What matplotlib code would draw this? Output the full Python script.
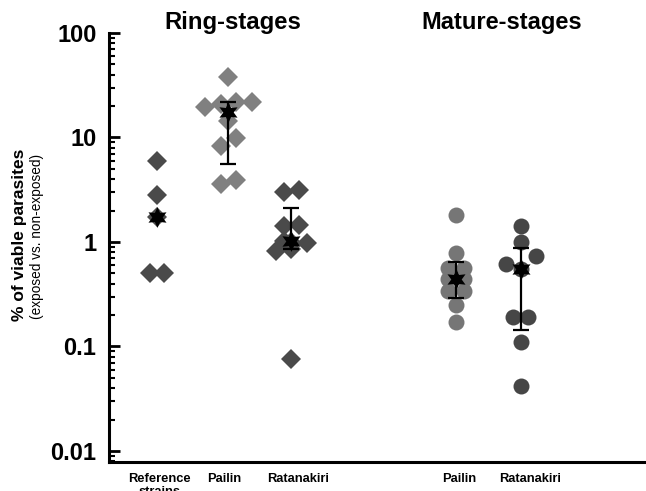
import numpy as np
import matplotlib
matplotlib.use('Agg')
import matplotlib.pyplot as plt
import matplotlib.transforms as mtrans

plt.rcParams['font.family'] = ['Liberation Sans', 'DejaVu Sans']

# ---- data ----
groups = ['Reference', 'Pailin', 'Ratanakiri', 'Pailin', 'Ratanakiri']

ref_vals = [6.0, 2.8, 1.75, 0.5, 0.5]
ring_pailin_vals = [38, 19.5, 21, 22, 22, 14.5, 8.3, 9.8, 3.6, 3.9]
ring_ratan_vals = [3.0, 3.15, 1.42, 1.46, 1.03, 0.98, 0.82, 0.86, 1.0, 0.076]
mat_pailin_vals = [1.83, 0.78, 0.56, 0.56, 0.44, 0.44, 0.34, 0.34, 0.25, 0.17]
mat_ratan_vals = [1.42, 1.0, 0.74, 0.61, 0.55, 0.19, 0.19, 0.111, 0.042]

medians = [1.75, 17.5, 1.03, 0.44, 0.55]
err_low = [None, 5.56, 0.85, 0.29, 0.145]
err_high = [None, 22, 2.1, 0.65, 0.87]

# ---- layout (x positions of groups, swarm offsets) ----
xpos = [0, 1.04, 1.97, 4.4, 5.35]
label_x = [0.03, 0.985, 2.07, 4.45, 5.49]
ref_off = [0, 0, 0, -0.11, 0.11]
ring_pailin_off = [0, -0.33, -0.1, 0.12, 0.35, 0, -0.1, 0.12, -0.1, 0.12]
ring_ratan_off = [-0.11, 0.12, -0.11, 0.12, -0.11, 0.23, -0.22, 0, 0, 0]
mat_pailin_off = [0, 0, -0.12, 0.12, -0.12, 0.12, -0.12, 0.12, 0, 0]
mat_ratan_off = [0, 0, 0.22, -0.22, 0, -0.12, 0.11, 0, 0]

fig = plt.figure(figsize=(6.46, 4.91), dpi=100)
ax = fig.add_axes([109/646, 1-462/491, 1-109/646, (462-33)/491])
ax.set_yscale('log')

sets = [
    (ref_vals, ref_off, 'D', '#4a4a4a', 10),
    (ring_pailin_vals, ring_pailin_off, 'D', '#808080', 10),
    (ring_ratan_vals, ring_ratan_off, 'D', '#4a4a4a', 10),
    (mat_pailin_vals, mat_pailin_off, 'o', '#767676', 11.5),
    (mat_ratan_vals, mat_ratan_off, 'o', '#464646', 11.5),
]
for i, (vals, off, mk, col, ms) in enumerate(sets):
    xs = xpos[i] + np.array(off)
    ax.plot(xs, vals, mk, color=col, ms=ms, mew=0, ls='none', zorder=2)

for i in range(5):
    if err_low[i] is not None:
        ax.errorbar([xpos[i]], [medians[i]],
                    yerr=[[medians[i]-err_low[i]], [err_high[i]-medians[i]]],
                    fmt='none', ecolor='black', elinewidth=1.6, capsize=5.8,
                    capthick=1.6, zorder=3)
ax.plot(xpos, medians, ls='none', marker=(6, 1, 0), color='black', ms=15,
        mew=0, zorder=4)

ax.set_xlim(-0.706, 7.19)
ax.set_ylim(10**(-2 - 11/104.5), 100)
ax.set_yticks([0.01, 0.1, 1, 10, 100])
ax.set_yticklabels(['0.01', '0.1', '1', '10', '100'], fontsize=17,
                   fontweight='bold')
ax.set_xticks([])
ax.spines['top'].set_visible(False)
ax.spines['right'].set_visible(False)
ax.spines['left'].set_linewidth(2.2)
ax.spines['bottom'].set_linewidth(2.2)
ax.tick_params(axis='y', which='major', direction='in', length=8, width=2,
               pad=9)
ax.tick_params(axis='y', which='minor', direction='in', length=4.5, width=1.5)

# group labels under the axis
trans = mtrans.blended_transform_factory(ax.transData, fig.transFigure)
names = ['Reference\nstrains'] + groups[1:]
for x, name in zip(label_x, names):
    ax.text(x, 1-473/491, name, transform=trans, ha='center', va='top',
            fontsize=9.3, fontweight='bold', linespacing=1.15, clip_on=False)

fig.text(233/646, 1-22/491, 'Ring-stages', ha='center', va='center',
         fontsize=17.2, fontweight='bold')
fig.text(502/646, 1-22/491, 'Mature-stages', ha='center', va='center',
         fontsize=17, fontweight='bold')

fig.text(20/646, 1-235/491, '% of viable parasites', rotation=90,
         ha='center', va='center', fontsize=12.5, fontweight='bold')
fig.text(37/646, 1-236/491, '(exposed vs. non-exposed)', rotation=90,
         ha='center', va='center', fontsize=9.8)

fig.savefig('out.png', dpi=100)
